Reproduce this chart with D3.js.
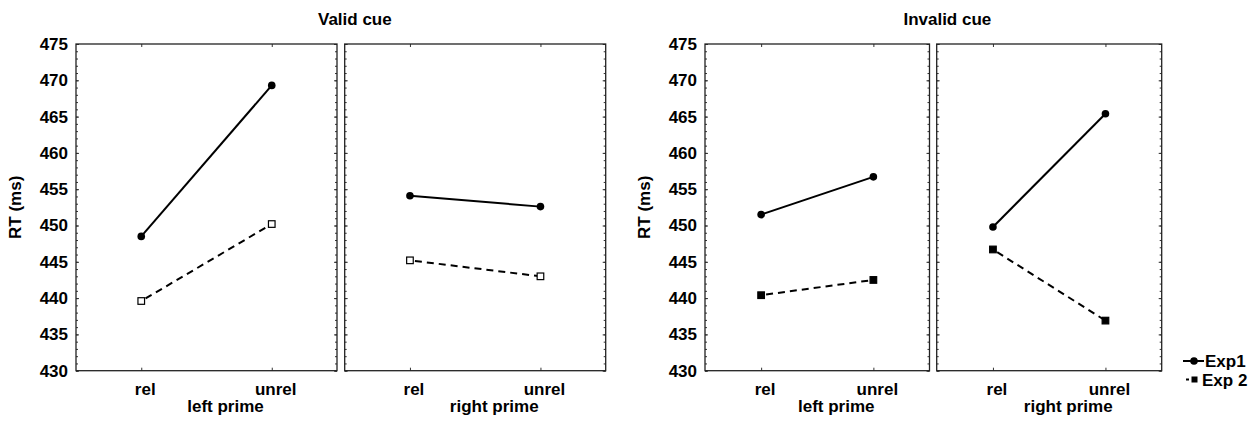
<!DOCTYPE html>
<html>
<head>
<meta charset="utf-8">
<script src="https://cdn.jsdelivr.net/npm/d3@7"></script>
<style>
  body { margin: 0; background: #fff; }
  svg text { font-family: "Liberation Sans", Arial, sans-serif; font-weight: bold; fill: #000; }
</style>
</head>
<body>
<div id="chart"></div>
<script>
// values
const primeLevels = ["rel", "unrel"];
const cueTitles = ["Valid cue", "Invalid cue"];
const primeNames = ["left prime", "right prime"];
const yTickValues = [430, 435, 440, 445, 450, 455, 460, 465, 470, 475];
const seriesNames = ["Exp1", "Exp 2"];

const validLeftExp1 = [448.5, 469.3];
const validLeftExp2 = [439.6, 450.2];
const validRightExp1 = [454.1, 452.6];
const validRightExp2 = [445.2, 443.0];
const invalidLeftExp1 = [451.5, 456.7];
const invalidLeftExp2 = [440.4, 442.5];
const invalidRightExp1 = [449.8, 465.4];
const invalidRightExp2 = [446.7, 436.9];

// panel placement
const panels = [
    { cue: 0, side: 0, x: 76, w: 261, exp1: validLeftExp1, exp2: validLeftExp2, openSquare: true, yLabels: true },
    { cue: 0, side: 1, x: 344.7, w: 261, exp1: validRightExp1, exp2: validRightExp2, openSquare: true, yLabels: false },
    { cue: 1, side: 0, x: 705, w: 224.5, exp1: invalidLeftExp1, exp2: invalidLeftExp2, openSquare: false, yLabels: true },
    { cue: 1, side: 1, x: 936.7, w: 225, exp1: invalidRightExp1, exp2: invalidRightExp2, openSquare: false, yLabels: false }
];

const width = 1260, height = 421;
const plotTop = 44, plotBottom = 370.7;

const svg = d3.select("#chart").append("svg")
    .attr("width", width)
    .attr("height", height);

const y = d3.scaleLinear().domain([430, 475]).range([plotBottom, plotTop]);
const minorValues = d3.range(430, 476, 1);

panels.forEach(p => {
    const x = d3.scalePoint().domain(primeLevels).range([p.x, p.x + p.w]).padding(0.5);
    const g = svg.append("g");

    // inner ticks on all four sides
    const tickGroups = [
        [d3.axisRight(y).tickValues(minorValues).tickSize(2), `translate(${p.x},0)`],
        [d3.axisRight(y).tickValues(yTickValues).tickSize(3), `translate(${p.x},0)`],
        [d3.axisLeft(y).tickValues(minorValues).tickSize(2), `translate(${p.x + p.w},0)`],
        [d3.axisLeft(y).tickValues(yTickValues).tickSize(3), `translate(${p.x + p.w},0)`],
        [d3.axisBottom(x).tickSize(3), `translate(0,${plotTop})`],
        [d3.axisTop(x).tickSize(3), `translate(0,${plotBottom})`]
    ];
    tickGroups.forEach(([axis, tr]) => {
        const a = g.append("g").attr("transform", tr).call(axis.tickFormat(""));
        a.select(".domain").remove();
        a.selectAll("line").attr("stroke", "#333").attr("stroke-width", 1);
    });

    g.append("rect")
        .attr("x", p.x).attr("y", plotTop)
        .attr("width", p.w).attr("height", plotBottom - plotTop)
        .attr("fill", "none")
        .attr("stroke", "#222")
        .attr("stroke-width", 1.3);

    if (p.yLabels) {
        const ya = g.append("g")
            .attr("transform", `translate(${p.x},0)`)
            .call(d3.axisLeft(y).tickValues(yTickValues).tickSize(0).tickPadding(8));
        ya.select(".domain").remove();
        ya.selectAll("text")
            .style("font-size", "17px")
            .style("font-family", "'Liberation Sans', Arial, sans-serif")
            .style("font-weight", "bold")
            .attr("fill", "#000");

        g.append("text")
            .attr("transform", `translate(${p.x - 55},${(plotTop + plotBottom) / 2}) rotate(-90)`)
            .attr("text-anchor", "middle")
            .style("font-size", "17px")
            .text("RT (ms)");
    }

    // category labels
    g.selectAll(".cat")
        .data(primeLevels)
        .join("text")
        .attr("x", d => x(d) + 4)
        .attr("y", 395)
        .attr("text-anchor", "middle")
        .style("font-size", "17px")
        .text(d => d);

    g.append("text")
        .attr("x", p.x + p.w / 2 + 19)
        .attr("y", 412)
        .attr("text-anchor", "middle")
        .style("font-size", "17px")
        .text(primeNames[p.side]);

    const line = d3.line()
        .x((d, i) => x(primeLevels[i]))
        .y(d => y(d));

    g.append("path")
        .datum(p.exp2)
        .attr("d", line)
        .attr("fill", "none")
        .attr("stroke", "#000")
        .attr("stroke-width", 2)
        .attr("stroke-dasharray", "7,5")
        .attr("stroke-dashoffset", -5);

    g.append("path")
        .datum(p.exp1)
        .attr("d", line)
        .attr("fill", "none")
        .attr("stroke", "#000")
        .attr("stroke-width", 2);

    g.selectAll(".sq")
        .data(p.exp2)
        .join("rect")
        .attr("x", (d, i) => x(primeLevels[i]) - 3.3)
        .attr("y", d => y(d) - 3.3)
        .attr("width", 6.6)
        .attr("height", 6.6)
        .attr("fill", p.openSquare ? "#fff" : "#000")
        .attr("stroke", "#000")
        .attr("stroke-width", 1.2);

    g.selectAll(".dot")
        .data(p.exp1)
        .join("circle")
        .attr("cx", (d, i) => x(primeLevels[i]))
        .attr("cy", d => y(d))
        .attr("r", 3.8)
        .attr("fill", "#000");
});

// cue titles over each pair of panels
cueTitles.forEach((t, c) => {
    const pair = panels.filter(p => p.cue === c);
    const cx = (pair[0].x + pair[1].x + pair[1].w) / 2 + 14;
    svg.append("text")
        .attr("x", cx)
        .attr("y", 25)
        .attr("text-anchor", "middle")
        .style("font-size", "17px")
        .text(t);
});

// legend
const lg = svg.append("g");
lg.append("line")
    .attr("x1", 1183).attr("x2", 1204)
    .attr("y1", 361).attr("y2", 361)
    .attr("stroke", "#000").attr("stroke-width", 2);
lg.append("circle")
    .attr("cx", 1194).attr("cy", 361).attr("r", 3.8).attr("fill", "#000");
lg.append("line")
    .attr("x1", 1186).attr("x2", 1189)
    .attr("y1", 379.5).attr("y2", 379.5)
    .attr("stroke", "#000").attr("stroke-width", 2);
lg.append("rect")
    .attr("x", 1191.5).attr("y", 376.5).attr("width", 6).attr("height", 6).attr("fill", "#000");
lg.selectAll(".lt")
    .data(seriesNames)
    .join("text")
    .attr("x", (d, i) => i === 0 ? 1205 : 1202)
    .attr("y", (d, i) => 367 + i * 19)
    .style("font-size", "17px")
    .text(d => d);
</script>
</body>
</html>
